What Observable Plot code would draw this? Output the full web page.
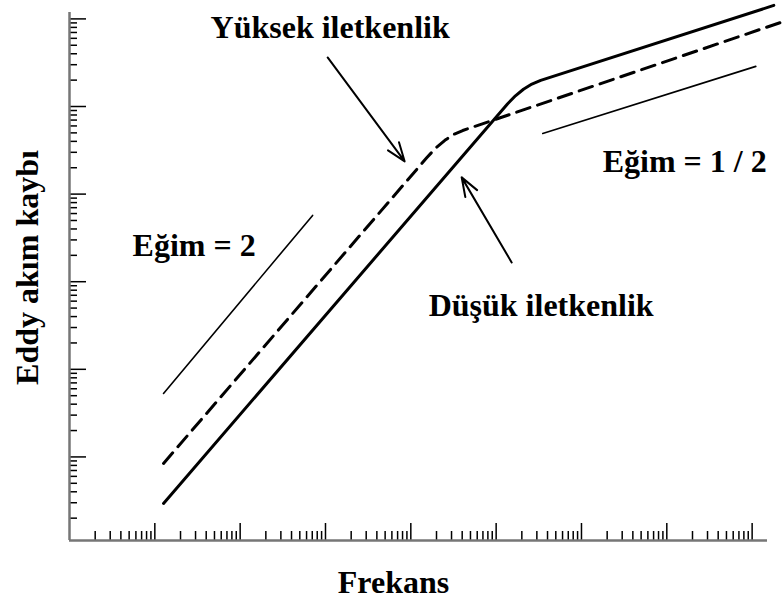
<!DOCTYPE html>
<html>
<head>
<meta charset="utf-8">
<script src="https://cdn.jsdelivr.net/npm/d3@7"></script>
<script src="https://cdn.jsdelivr.net/npm/@observablehq/plot@0.6"></script>
<style>
  body { margin: 0; background: #fff; }
</style>
</head>
<body>
<div id="chart"></div>
<script>
// All positions are decade exponents (log10 of frequency / log10 of loss).

// Axis extents
const freqDomainExp = [0, 8.18];
const lossDomainExp = [0.046, 6.073];
const freqMajorExp = [1, 2, 3, 4, 5, 6, 7, 8];
const lossMajorExp = [1, 2, 3, 4, 5, 6];
const minorMultipliers = [2, 3, 4, 5, 6, 7, 8, 9];

// High-conductivity material (dashed curve)
const highCondFreqExp = [1.102, 4.186, 4.292, 4.399, 4.503, 4.608, 8.336];
const highCondLossExp = [0.926, 4.414, 4.526, 4.614, 4.682, 4.726, 5.960];

// Low-conductivity material (solid curve)
const lowCondFreqExp = [1.102, 5.135, 5.226, 5.320, 5.419, 5.522, 8.254];
const lowCondLossExp = [0.469, 5.032, 5.122, 5.197, 5.256, 5.298, 6.154];

// Slope guide lines
const slopeTwoFreqExp = [1.102, 2.849];
const slopeTwoLossExp = [1.725, 3.757];
const slopeHalfFreqExp = [5.546, 8.043];
const slopeHalfLossExp = [4.693, 5.458];

// Pointer arrows (tail -> head)
const arrowNames = ["Yüksek iletkenlik", "Düşük iletkenlik"];
const arrowFromFreqExp = [3.025, 5.182];
const arrowFromLossExp = [5.560, 3.220];
const arrowToFreqExp = [3.928, 4.596];
const arrowToLossExp = [4.373, 4.191];

// Annotation labels (left edge, baseline)
const labelTexts = ["Yüksek iletkenlik", "Eğim = 2", "Düşük iletkenlik", "Eğim = 1 / 2"];
const labelFreqExp = [1.653, 0.739, 4.209, 6.249];
const labelLossExp = [5.777, 3.289, 2.604, 4.248];

const xTitle = "Frekans";
const yTitle = "Eddy akım kaybı";

const pow = (e) => 10 ** e;
const toRows = (fx, lx) => fx.map((f, i) => ({f: pow(f), p: pow(lx[i])}));

const freqDomain = freqDomainExp.map(pow);
const lossDomain = lossDomainExp.map(pow);
const inFreq = (v) => v >= freqDomain[0] && v <= freqDomain[1];
const inLoss = (v) => v >= lossDomain[0] && v <= lossDomain[1];

const freqMajor = freqMajorExp.map(pow);
const lossMajor = lossMajorExp.map(pow);
const freqMinor = d3.range(0, 9).flatMap((d) => minorMultipliers.map((m) => m * pow(d))).filter(inFreq);
const lossMinor = d3.range(0, 7).flatMap((d) => minorMultipliers.map((m) => m * pow(d))).filter(inLoss);

const arrows = arrowNames.map((name, i) => ({
  name,
  f1: pow(arrowFromFreqExp[i]), p1: pow(arrowFromLossExp[i]),
  f2: pow(arrowToFreqExp[i]), p2: pow(arrowToLossExp[i])
}));
const labels = labelTexts.map((t, i) => ({t, f: pow(labelFreqExp[i]), p: pow(labelLossExp[i])}));

const font = "'Liberation Serif', 'Times New Roman', Times, serif";
const tickStyle = {fill: "none", label: null, tickFormat: () => "", stroke: "#000", strokeWidth: 1.5};

const chart = Plot.plot({
  width: 782,
  height: 600,
  marginLeft: 69,
  marginRight: 15,
  marginTop: 12,
  marginBottom: 60,
  style: {background: "#fff", color: "#000", fontFamily: font},
  x: {type: "log", domain: freqDomain},
  y: {type: "log", domain: lossDomain},
  marks: [
    Plot.axisX({ticks: freqMinor, tickSize: -9, ...tickStyle}),
    Plot.axisX({ticks: freqMajor, tickSize: -17, ...tickStyle}),
    Plot.axisY({ticks: lossMinor, tickSize: -8, ...tickStyle}),
    Plot.axisY({ticks: lossMajor, tickSize: -17, ...tickStyle}),
    Plot.ruleX([freqDomain[0]], {stroke: "#767676", strokeWidth: 2.5}),
    Plot.ruleY([lossDomain[0]], {stroke: "#767676", strokeWidth: 2.5}),
    Plot.line(toRows(highCondFreqExp, highCondLossExp), {
      x: "f", y: "p", stroke: "#000", strokeWidth: 3, strokeDasharray: "14,8", strokeLinejoin: "round"
    }),
    Plot.line(toRows(lowCondFreqExp, lowCondLossExp), {
      x: "f", y: "p", stroke: "#000", strokeWidth: 3, strokeLinejoin: "round"
    }),
    Plot.line(toRows(slopeTwoFreqExp, slopeTwoLossExp), {x: "f", y: "p", stroke: "#000", strokeWidth: 1.6}),
    Plot.line(toRows(slopeHalfFreqExp, slopeHalfLossExp), {x: "f", y: "p", stroke: "#000", strokeWidth: 1.6}),
    Plot.arrow(arrows, {
      x1: "f1", y1: "p1", x2: "f2", y2: "p2",
      stroke: "#000", strokeWidth: 2, headLength: 15, headAngle: 40
    }),
    Plot.text(labels, {
      x: "f", y: "p", text: "t", textAnchor: "start", lineAnchor: "bottom",
      fontSize: 32, fontWeight: "bold", fontFamily: font, fill: "#000"
    }),
    Plot.text([xTitle], {
      frameAnchor: "bottom", textAnchor: "middle", lineAnchor: "bottom", dx: -25, dy: 52,
      fontSize: 32, fontWeight: "bold", fontFamily: font, fill: "#000"
    }),
    Plot.text([yTitle], {
      frameAnchor: "left", textAnchor: "middle", lineAnchor: "bottom", rotate: -90, dx: -32, dy: -9,
      fontSize: 32, fontWeight: "bold", fontFamily: font, fill: "#000"
    })
  ]
});

document.getElementById("chart").appendChild(chart);
</script>
</body>
</html>
